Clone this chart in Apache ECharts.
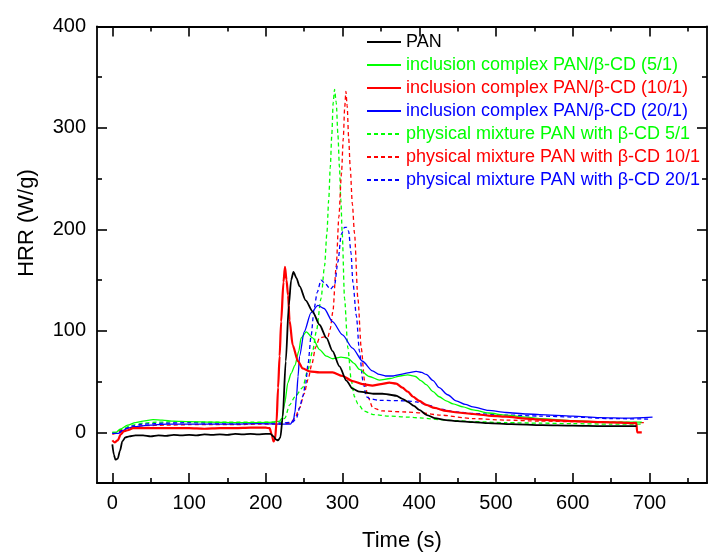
<!DOCTYPE html>
<html>
<head>
<meta charset="utf-8">
<script src="https://cdn.jsdelivr.net/npm/echarts@6/dist/echarts.min.js"></script>
<style>html,body{margin:0;padding:0;background:#fff}#c{width:708px;height:557px}</style>
</head>
<body>
<div id="c"></div>
<script>
// ---- data (time s, HRR W/g) ----
const seriesNames = [
  'PAN',
  'inclusion complex PAN/\u03b2-CD (5/1)',
  'inclusion complex PAN/\u03b2-CD (10/1)',
  'inclusion complex PAN/\u03b2-CD (20/1)',
  'physical mixture PAN with \u03b2-CD 5/1',
  'physical mixture PAN with \u03b2-CD 10/1',
  'physical mixture PAN with \u03b2-CD 20/1'
];
const xMajorTicks = [0, 100, 200, 300, 400, 500, 600, 700];
const xMinorTicks = [50, 150, 250, 350, 450, 550, 650, 750];
const yMajorTicks = [0, 100, 200, 300, 400];
const yMinorTicks = [50, 150, 250, 350];

const pan = [[0,-12],[2,-22],[4,-27],[7,-26],[10,-18],[13,-9],[17,-5],[22,-4],[30,-3],[40,-3],[50,-4],[60,-3],[70,-3.5],[80,-2.5],[90,-3],[100,-2.5],[110,-3],[120,-2],[130,-2.5],[140,-2],[150,-2.5],[160,-1.5],[170,-2],[180,-1.5],[190,-2],[200,-1.5],[206,-1.5],[210,-4],[213,-7],[216,-8],[219,-5],[222,15],[226,70],[230,125],[233,150],[236,158],[240,152],[244,144],[252,130],[261,119],[270,106],[279,93],[287,80],[296,65],[305,51],[313,43],[322,40],[340,38],[352,38],[362,37],[370,36],[378,33],[385,30],[393,26],[400,22],[410,17],[420,14],[435,12],[450,11],[470,10],[490,9],[520,8],[560,7],[600,6.5],[640,6],[683,6]];
const incl5 = [[0,0],[5,0],[10,3],[20,7],[30,9.5],[40,11],[53,12.5],[65,12],[80,11],[100,10.5],[130,10],[160,9.5],[190,9.5],[210,10],[218,11],[221,14],[224.5,28],[228.8,49],[233,58],[238,66],[243,80],[246,93],[252.7,99],[261,93],[270,81.5],[278.8,75],[287.4,72.5],[298,74],[307,73],[315,68],[322,62],[335,55],[348,51.5],[362,53],[375,55.5],[385,56.5],[395,55],[402,51],[409,47],[418,40],[426,35],[435,31],[444,28],[457,25],[470,22],[490,19],[513,17],[540,15],[557,13.5],[600,11.5],[640,10],[690,10]];
const incl10 = [[0,-8],[3,-10],[7,-8],[11,-2],[15,1],[20,2],[27,4],[40,4],[60,4],[80,4],[100,4],[120,3.5],[140,4],[160,4],[180,4.5],[200,4.5],[205,4],[208,-3],[210,-9],[212,-7],[214,10],[216,44],[218,75],[220,109],[223,148],[225,163],[227,150],[229,135],[231,110],[235,86],[242,70],[248,63],[257,60],[270,59],[287,59],[300,55.5],[313,50.5],[326,47.5],[339,46],[350,47.5],[361,49],[370,48],[378,44],[385,40],[392,35],[400,31],[409,27],[420,24],[435,21],[450,19.5],[470,18],[490,16.5],[513,15.5],[540,13.5],[557,12.5],[600,11],[640,10],[683,9],[684,0],[690,0]];
const incl20 = [[0,-1],[8,-1],[12,1],[20,4],[30,5.5],[48,7],[70,8],[100,8],[130,8],[160,8],[190,8.5],[220,8],[232,8],[236,12],[238,20],[240,35],[242,55],[244,75],[250,99],[259,118],[268,125],[276,122],[287,109],[300,96],[313,83],[326,70],[339,60.5],[348,57],[356,55.5],[366,55.5],[376,57],[385,58.5],[396,60],[403,59],[409,57],[418,51],[426,44],[437,37],[448,31],[460,27.5],[470,25],[490,21.5],[513,19.5],[540,18],[557,17.5],[600,16],[635,14.5],[670,14],[704,15]];
const phys5 = [[0,0],[5,0],[12,3],[25,7],[40,9],[60,10],[90,10.5],[120,10],[150,10],[180,10],[210,10],[220,10],[225,14],[231,27],[238,35],[248,44],[255,62],[261,80],[266,100],[272,132],[276.6,164],[279.6,196],[282,229],[284,261],[286,293],[287.8,325],[289.6,338],[291.8,325],[294,293],[296,261],[297.8,229],[299.6,196],[302.6,132],[307,83],[311.4,51],[315.6,35],[320,28],[328,21],[340,17.5],[360,16],[383,15],[405,14],[426,12.5],[450,11.5],[470,10.5],[513,9.5],[557,9],[600,8.5],[650,8],[690,8]];
const phys10 = [[0,-2],[5,-1],[12,2],[25,5],[40,6.5],[70,7],[100,7.5],[130,7.5],[160,7.5],[190,8],[220,8],[232,9],[238,14],[244,24],[250,38],[255,52],[260,67],[265,84],[270,93],[276,94],[281,94],[284,102],[287.4,119],[291.8,164],[295.2,212],[298.6,255],[301,290],[302.8,320],[304.4,336],[306,322],[308,290],[310,261],[312.8,225],[315.6,196],[320,132],[324.4,83],[328.7,51],[333,35],[339.5,24],[352,21],[383,20],[405,19],[426,17],[470,13.5],[513,12],[557,11],[600,10.5],[650,10],[695,9.5]];
const phys20 = [[0,-1],[8,-1],[15,3],[25,6],[40,8],[70,9],[100,9.5],[130,9],[160,9],[190,9],[220,9],[235,10],[240,14],[244,24],[248,35],[252,48],[255,67],[259,95],[263,122],[267,138],[272,150],[278,146],[284,141],[289.6,145],[294,168],[298.3,195],[302.6,202],[305.6,202],[308,198],[311,177],[313.5,148],[318,115],[322,80],[326.5,51],[331,35],[336,33],[348,31.5],[383,31],[396,30],[413,26.5],[426,23],[448,20],[470,18.5],[513,17],[557,16],[600,15],[650,13.5],[700,13]];

const FONT = '"Liberation Sans", Arial, sans-serif';
const GREEN = '#00ff00', RED = '#ff0000', BLUE = '#0000ff', BLACK = '#000000';

function xAxis(position, ticks, len, main) {
  return {
    type: 'value', min: -20, max: 775, position: position,
    axisLine: { show: main, onZero: false, lineStyle: { color: '#000', width: 1.8 } },
    axisTick: { show: true, inside: true, length: len, customValues: ticks, lineStyle: { color: '#000', width: 1.6 } },
    axisLabel: (main && position === 'bottom') ?
      { show: true, customValues: xMajorTicks, fontSize: 20, color: '#000', margin: 10, fontFamily: FONT } : { show: false },
    splitLine: { show: false },
    name: (main && position === 'bottom') ? 'Time (s)' : '',
    nameLocation: 'middle', nameGap: 47,
    nameTextStyle: { fontSize: 22, color: '#000', fontFamily: FONT }
  };
}
function yAxis(position, ticks, len, main) {
  return {
    type: 'value', min: -50, max: 400, position: position,
    axisLine: { show: main, onZero: false, lineStyle: { color: '#000', width: 1.8 } },
    axisTick: { show: true, inside: true, length: len, customValues: ticks, lineStyle: { color: '#000', width: 1.6 } },
    axisLabel: (main && position === 'left') ?
      { show: true, customValues: yMajorTicks, fontSize: 20, color: '#000', margin: 11, fontFamily: FONT } : { show: false },
    splitLine: { show: false }
  };
}
function line(name, data, color, width, dashed, z) {
  return {
    name: name, type: 'line', data: data, xAxisIndex: 0, yAxisIndex: 0,
    symbol: 'none', smooth: 0.25, smoothMonotone: 'x', z: z,
    lineStyle: { color: color, width: width, type: dashed ? [4, 3] : 'solid' },
    itemStyle: { color: color }
  };
}
const colors = [BLACK, GREEN, RED, BLUE, GREEN, RED, BLUE];

const chart = echarts.init(document.getElementById('c'), null, { renderer: 'canvas' });
chart.setOption({
  animation: false,
  backgroundColor: '#fff',
  grid: { left: 97, top: 26.5, right: 1, bottom: 66.5, containLabel: false },
  xAxis: [
    xAxis('bottom', xMajorTicks, 10, true),
    xAxis('bottom', xMinorTicks, 5, false),
    xAxis('top', xMajorTicks, 10, true),
    xAxis('top', xMinorTicks, 5, false)
  ],
  yAxis: [
    yAxis('left', yMajorTicks, 10, true),
    yAxis('left', yMinorTicks, 5, false),
    yAxis('right', yMajorTicks, 10, true),
    yAxis('right', yMinorTicks, 5, false)
  ],
  legend: {
    orient: 'vertical', left: 366, top: 33, padding: 0,
    itemWidth: 34, itemHeight: 14, itemGap: 5, align: 'left',
    itemStyle: { opacity: 0 },
    textStyle: { fontSize: 18, fontFamily: FONT, padding: [0, 0, 0, 0] },
    data: seriesNames.map((n, i) => ({ name: n, textStyle: { color: colors[i] } }))
  },
  graphic: [{
    type: 'text', x: 27, y: 223, rotation: Math.PI / 2,
    style: { text: 'HRR (W/g)', x: 0, y: 0, align: 'center', verticalAlign: 'middle',
      textAlign: 'center', textVerticalAlign: 'middle', fontSize: 22, fontFamily: FONT, fill: '#000' }
  }],
  series: [
    line(seriesNames[4], phys5, GREEN, 1.3, true, 2),
    line(seriesNames[5], phys10, RED, 1.3, true, 2),
    line(seriesNames[6], phys20, BLUE, 1.3, true, 2),
    line(seriesNames[1], incl5, GREEN, 1.3, false, 3),
    line(seriesNames[3], incl20, BLUE, 1.3, false, 3),
    line(seriesNames[2], incl10, RED, 2.2, false, 4),
    line(seriesNames[0], pan, BLACK, 1.8, false, 5)
  ]
});
</script>
</body>
</html>
